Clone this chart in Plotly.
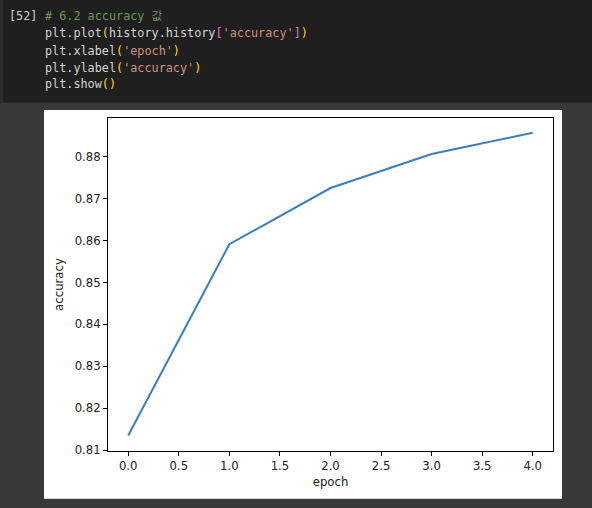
import plotly.graph_objects as go

# accuracy per epoch
epochs = [0, 1, 2, 3, 4]
accuracy = [0.8135, 0.8591, 0.8725, 0.8806, 0.8857]

x_ticks = [0.0, 0.5, 1.0, 1.5, 2.0, 2.5, 3.0, 3.5, 4.0]
y_ticks = [0.81, 0.82, 0.83, 0.84, 0.85, 0.86, 0.87, 0.88]

W, H = 592, 508
L, R, T, B = 108, 39, 118, 57
PW, PH = W - L - R, H - T - B


def px(x):
    return (x - L) / PW


def py(y):
    return (H - B - y) / PH


GRAY = '#d4d4d4'
STR = '#ce9178'
PAR = '#ffd700'
BRK = '#da70d6'


def sp(t, c):
    return "<span style='color:%s'>%s</span>" % (c, t)


code_lines = [
    sp('# 6.2 accuracy 값', '#6a9955'),
    sp('plt.plot', GRAY) + sp('(', PAR) + sp('history.history', GRAY) + sp('[', BRK)
    + sp("'accuracy'", STR) + sp(']', BRK) + sp(')', PAR),
    sp('plt.xlabel', GRAY) + sp('(', PAR) + sp("'epoch'", STR) + sp(')', PAR),
    sp('plt.ylabel', GRAY) + sp('(', PAR) + sp("'accuracy'", STR) + sp(')', PAR),
    sp('plt.show', GRAY) + sp('()', PAR),
]
line_y = [16, 33.3, 50.7, 67.7, 84.3]

fig = go.Figure()
fig.add_trace(go.Scatter(
    x=epochs,
    y=accuracy,
    mode='lines',
    line=dict(color='#3a7ebf', width=2),
    hoverinfo='skip',
))

shapes = [
    # notebook code cell
    dict(type='rect', xref='paper', yref='paper', x0=px(0), x1=px(W), y0=py(0), y1=py(102.7),
         fillcolor='#1f1f1f', line=dict(width=0), layer='below'),
    dict(type='rect', xref='paper', yref='paper', x0=px(0), x1=px(3), y0=py(0), y1=py(102.7),
         fillcolor='#2c2c2c', line=dict(width=0), layer='below'),
    # white output image
    dict(type='rect', xref='paper', yref='paper', x0=px(44), x1=px(562), y0=py(110), y1=py(498.7),
         fillcolor='white', line=dict(width=0), layer='below'),
]

code_font = dict(family='DejaVu Sans Mono, Noto Sans CJK KR', size=11.8, color=GRAY)
annotations = [
    dict(text='[52]', xref='paper', yref='paper', x=px(7), y=py(16), xanchor='left', yanchor='middle',
         showarrow=False, font=dict(code_font, color='#cccccc')),
]
for t, yy in zip(code_lines, line_y):
    annotations.append(dict(
        text=t, xref='paper', yref='paper', x=px(43), y=py(yy), xanchor='left', yanchor='middle',
        showarrow=False, font=code_font))

label_font = dict(family='DejaVu Sans', size=11.7, color='#222222')

fig.update_layout(
    width=W, height=H,
    margin=dict(l=L, r=R, t=T, b=B),
    paper_bgcolor='#383838',
    plot_bgcolor='white',
    showlegend=False,
    shapes=shapes,
    annotations=annotations,
    font=label_font,
    xaxis=dict(
        title=dict(text='epoch', standoff=5, font=label_font),
        range=[-0.2, 4.2], tickvals=x_ticks, tickformat='.1f', tickfont=label_font,
        showgrid=False, zeroline=False,
        showline=True, linecolor='black', linewidth=1, mirror=True,
        ticks='outside', ticklen=4, tickcolor='black',
    ),
    yaxis=dict(
        title=dict(text='accuracy', standoff=8, font=label_font),
        range=[0.8098, 0.8892], tickvals=y_ticks, tickformat='.2f', tickfont=label_font,
        showgrid=False, zeroline=False,
        showline=True, linecolor='black', linewidth=1, mirror=True,
        ticks='outside', ticklen=4, tickcolor='black',
    ),
)

# drop the page's default body margin so the figure fills the window
fig.write_html('out.html', config={'displayModeBar': False},
               post_script="document.body.style.margin='0px';")
